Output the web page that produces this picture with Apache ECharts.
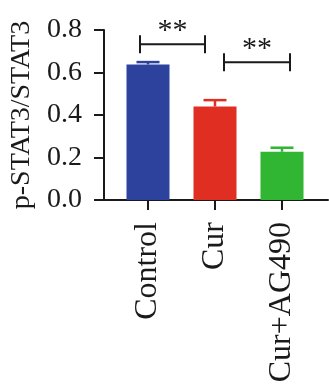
<!DOCTYPE html>
<html>
<head>
<meta charset="utf-8">
<script src="https://cdn.jsdelivr.net/npm/echarts@6/dist/echarts.min.js"></script>
<style>
  html, body { margin: 0; padding: 0; background: #fff; }
  #chart { width: 329px; height: 388px; }
</style>
</head>
<body>
<div id="chart"></div>
<script>
const categories = ['Control', 'Cur', 'Cur+AG490'];
const ratioValues = [0.638, 0.44, 0.227];
const ratioErrors = [0.011, 0.03, 0.019];
const barColors = ['#2C429C', '#E02F22', '#30B632'];
const yTicks = [0, 0.2, 0.4, 0.6, 0.8];
// [from category, to category, bracket height, label]
const brackets = [
    [0, 1, 0.733, '**'],
    [1, 2, 0.648, '**']
];

const font = '"Liberation Serif", "Times New Roman", serif';
const ink = '#1a1a1a';

document.addEventListener('DOMContentLoaded', () => {
    const chart = echarts.init(document.getElementById('chart'));

    // pixel shifts of the bracket ends from the bar centres
    const bracketShift = [[-8, -10], [9, 8]];

    const option = {
        animation: false,
        grid: [
            { left: 114.5, right: 13.5, top: 30, height: 170 },
            { left: 104, right: 1, top: 30, height: 170 }
        ],
        xAxis: [
            {
                type: 'category',
                gridIndex: 0,
                data: categories,
                axisLine: { show: false },
                axisTick: { show: true, alignWithLabel: true, length: 10, lineStyle: { color: ink, width: 2 } },
                axisLabel: {
                    rotate: 90, margin: 22, interval: 0,
                    fontFamily: font, fontSize: 32, color: ink
                }
            },
            {
                type: 'value',
                gridIndex: 1,
                min: 0, max: 1,
                axisLine: { show: true, lineStyle: { color: ink, width: 2 } },
                axisTick: { show: false },
                axisLabel: { show: false },
                splitLine: { show: false }
            }
        ],
        yAxis: [
            {
                type: 'value',
                gridIndex: 0,
                min: 0, max: 0.8,
                show: false
            },
            {
                type: 'value',
                gridIndex: 1,
                min: 0, max: 0.8, interval: 0.2,
                name: 'p-STAT3/STAT3',
                nameLocation: 'middle',
                nameGap: 64,
                nameTextStyle: { fontFamily: font, fontSize: 28, color: ink },
                axisLine: { show: true, lineStyle: { color: ink, width: 2 } },
                axisTick: { show: true, length: 10, lineStyle: { color: ink, width: 2 } },
                axisLabel: {
                    margin: 22,
                    fontFamily: font, fontSize: 28, color: ink,
                    formatter: (v) => yTicks.includes(+v.toFixed(1)) ? v.toFixed(1) : ''
                },
                splitLine: { show: false }
            }
        ],
        series: [
            {
                type: 'bar',
                xAxisIndex: 0,
                yAxisIndex: 0,
                barWidth: 43,
                data: ratioValues.map((v, i) => ({ value: v, itemStyle: { color: barColors[i] } }))
            },
            {
                type: 'custom',
                xAxisIndex: 0,
                yAxisIndex: 0,
                data: ratioValues.map((v, i) => [i, v, v + ratioErrors[i]]),
                renderItem: (params, api) => {
                    const i = api.value(0);
                    const base = api.coord([i, api.value(1)]);
                    const top = api.coord([i, api.value(2)]);
                    const style = { stroke: barColors[i], lineWidth: 2.5 };
                    return {
                        type: 'group',
                        children: [
                            { type: 'line', shape: { x1: base[0], y1: base[1], x2: top[0], y2: top[1] }, style },
                            { type: 'line', shape: { x1: top[0] - 11.5, y1: top[1], x2: top[0] + 11.5, y2: top[1] }, style }
                        ]
                    };
                }
            },
            {
                type: 'custom',
                xAxisIndex: 0,
                yAxisIndex: 0,
                data: brackets,
                renderItem: (params, api) => {
                    const b = brackets[params.dataIndex];
                    const shift = bracketShift[params.dataIndex];
                    const p1 = api.coord([b[0], b[2]]);
                    const p2 = api.coord([b[1], b[2]]);
                    const x1 = p1[0] + shift[0];
                    const x2 = p2[0] + shift[1];
                    const y = p1[1];
                    const style = { stroke: ink, lineWidth: 2 };
                    return {
                        type: 'group',
                        children: [
                            { type: 'line', shape: { x1, y1: y, x2, y2: y }, style },
                            { type: 'line', shape: { x1, y1: y - 9, x2: x1, y2: y + 9 }, style },
                            { type: 'line', shape: { x1: x2, y1: y - 9, x2, y2: y + 9 }, style },
                            {
                                type: 'text',
                                style: {
                                    text: b[3], x: (x1 + x2) / 2, y: y - 13,
                                    align: 'center', verticalAlign: 'middle',
                                    font: '30px ' + font, fill: ink
                                }
                            }
                        ]
                    };
                }
            }
        ]
    };

    chart.setOption(option);
});
</script>
</body>
</html>
